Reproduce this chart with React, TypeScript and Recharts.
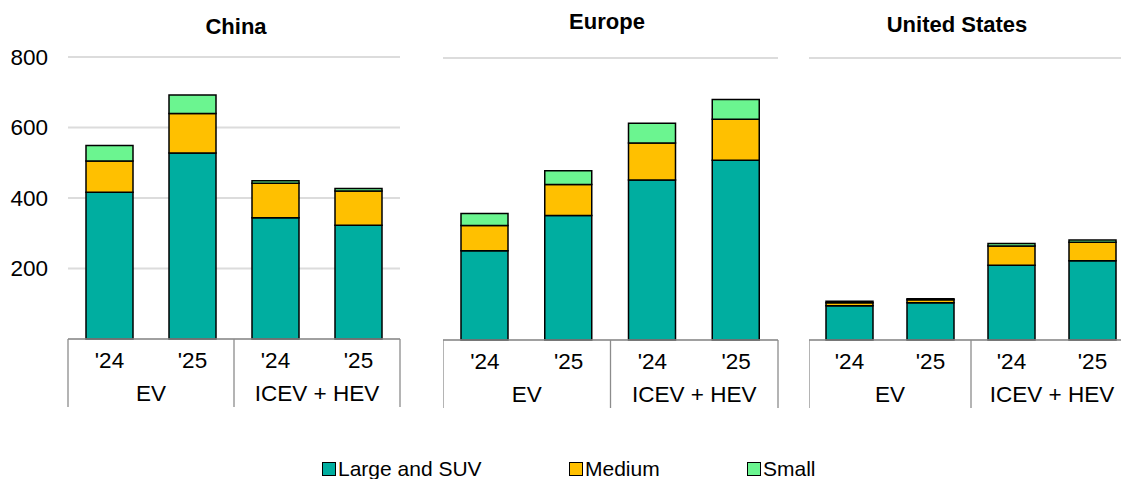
import React from 'react'
import { BarChart, Bar, XAxis, YAxis, CartesianGrid } from 'recharts'

const years = ["'24", "'25", "'24", "'25"]
const groups = ['EV', 'EV', 'ICEV + HEV', 'ICEV + HEV']
const yTicks = [0, 200, 400, 600, 800]

const seriesNames = ['Large and SUV', 'Medium', 'Small']
const seriesColors = ['#00AEA0', '#FFC000', '#6BF590']

// China
const chinaLarge = [416, 528, 344, 323]
const chinaMedium = [89, 112, 98, 97]
const chinaSmall = [44, 52, 7, 7]

// Europe
const europeLarge = [253, 353, 454, 510]
const europeMedium = [72, 88, 105, 116]
const europeSmall = [34, 39, 56, 56]

// United States
const usLarge = [97, 106, 212, 225]
const usMedium = [9, 8, 55, 52]
const usSmall = [4, 3, 7, 7]

const FONT = '"Liberation Sans", Arial, sans-serif'
const GREY = '#8c8c8c'
const AXIS_FS = 22.5

const build = (large: number[], medium: number[], small: number[]) =>
  years.map((y, i) => ({
    year: y,
    group: groups[i],
    large: large[i],
    medium: medium[i],
    small: small[i],
  }))

// plotX = where the plot area starts on the page
const panels = [
  { title: 'China', data: build(chinaLarge, chinaMedium, chinaSmall), plotX: 68, axisW: 68, plotW: 332, top: 57, titleX: 236, titleY: 27 },
  { title: 'Europe', data: build(europeLarge, europeMedium, europeSmall), plotX: 443, axisW: 0, plotW: 335, top: 58, titleX: 607, titleY: 22 },
  { title: 'United States', data: build(usLarge, usMedium, usSmall), plotX: 809, axisW: 0, plotW: 324, top: 58, titleX: 957, titleY: 25 },
]

const PLOT_H = 282
const XAXIS_H = 68

const makeTick = (band: number) => (props: any) => {
  const { x, y, payload, index } = props
  const i = index as number
  const lines: React.ReactNode[] = []
  if (i === 0 || i === 2) {
    lines.push(<line key="l" x1={x - band / 2} x2={x - band / 2} y1={y} y2={y + XAXIS_H} stroke={GREY} strokeWidth={1.3} />)
  }
  if (i === 3) {
    lines.push(<line key="r" x1={x + band / 2} x2={x + band / 2} y1={y} y2={y + XAXIS_H} stroke={GREY} strokeWidth={1.3} />)
  }
  return (
    <g>
      <text x={x} y={y + 21} textAnchor="middle" dominantBaseline="central" fontSize={AXIS_FS} fill="#000" fontFamily={FONT}>
        {payload.value}
      </text>
      {(i === 0 || i === 2) && (
        <text x={x + band / 2} y={y + 54} textAnchor="middle" dominantBaseline="central" fontSize={AXIS_FS} fill="#000" fontFamily={FONT}>
          {groups[i]}
        </text>
      )}
      {lines}
    </g>
  )
}

function Panel({ p }: { p: (typeof panels)[number] }) {
  const band = p.plotW / 4
  const width = p.axisW + p.plotW + 2
  return (
    <div style={{ position: 'absolute', left: p.plotX - p.axisW, top: 0 }}>
      <BarChart
        width={width}
        height={p.top + PLOT_H + XAXIS_H}
        data={p.data}
        margin={{ top: p.top, right: 2, left: 0, bottom: 0 }}
        barSize={47}
      >
        <CartesianGrid vertical={false} stroke="#dcdcdc" strokeWidth={2} />
        <YAxis
          domain={[0, 800]}
          ticks={yTicks}
          width={p.axisW}
          axisLine={false}
          tickLine={false}
          tickMargin={14}
          tick={p.axisW ? { fontSize: AXIS_FS, fill: '#000', fontFamily: FONT } : false}
          tickFormatter={(v: number) => (v === 0 ? '' : String(v))}
        />
        <XAxis
          dataKey="year"
          height={XAXIS_H}
          interval={0}
          tickLine={false}
          tickSize={0}
          tickMargin={0}
          axisLine={{ stroke: GREY, strokeWidth: 1.3 }}
          tick={makeTick(band)}
        />
        <Bar dataKey="large" stackId="s" fill={seriesColors[0]} stroke="#000" strokeWidth={1.5} isAnimationActive={false} />
        <Bar dataKey="medium" stackId="s" fill={seriesColors[1]} stroke="#000" strokeWidth={1.5} isAnimationActive={false} />
        <Bar dataKey="small" stackId="s" fill={seriesColors[2]} stroke="#000" strokeWidth={1.5} isAnimationActive={false} />
      </BarChart>
    </div>
  )
}

const legendX = [322, 569, 747]

export default function App() {
  return (
    <div
      style={{
        position: 'absolute',
        left: 0,
        top: 0,
        width: 1121,
        height: 479,
        overflow: 'hidden',
        background: '#fff',
        fontFamily: FONT,
      }}
    >
      {panels.map((p) => (
        <div
          key={p.title}
          style={{
            position: 'absolute',
            left: p.titleX - 150,
            width: 300,
            top: p.titleY - 13,
            textAlign: 'center',
            fontWeight: 'bold',
            fontSize: 22,
            lineHeight: '26px',
          }}
        >
          {p.title}
        </div>
      ))}
      {panels.map((p) => (
        <Panel key={p.title} p={p} />
      ))}
      {seriesNames.map((name, i) => (
        <div
          key={name}
          style={{
            position: 'absolute',
            left: legendX[i],
            top: 457,
            display: 'flex',
            alignItems: 'center',
            fontSize: 21,
            lineHeight: '24px',
            whiteSpace: 'nowrap',
          }}
        >
          <span
            style={{
              display: 'inline-block',
              width: 12,
              height: 12,
              border: '1.5px solid #000',
              background: seriesColors[i],
              marginRight: 2,
            }}
          />
          {name}
        </div>
      ))}
    </div>
  )
}
